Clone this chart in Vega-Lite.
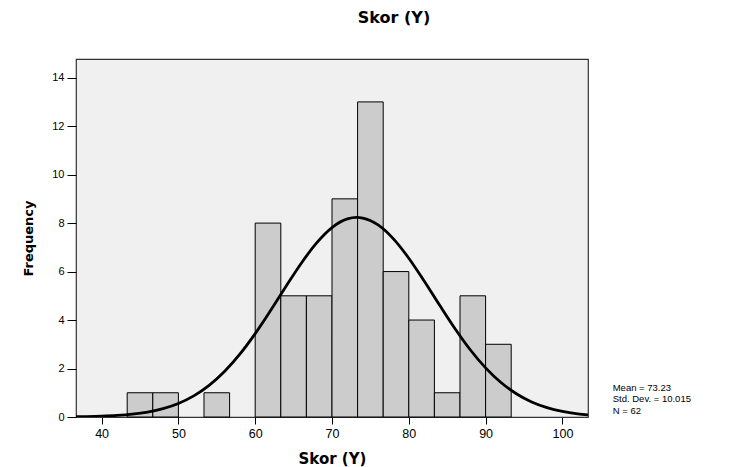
{
  "$schema": "https://vega.github.io/schema/vega-lite/v6.json",
  "width": 512,
  "height": 358,
  "autosize": {"type": "none"},
  "padding": {"left": 76, "top": 59, "right": 147, "bottom": 50},
  "background": "white",
  "config": {
    "font": "Liberation Sans",
    "view": {"fill": "#f0f0f0", "stroke": "#333333", "strokeWidth": 1.2},
    "axis": {"grid": false, "domain": false, "tickColor": "#000000", "labelColor": "#000000", "titleColor": "#000000", "labelFont": "Liberation Sans", "titleFont": "DejaVu Sans"}
  },
  "title": {"text": "Skor (Y)", "fontSize": 16, "fontWeight": "bold", "font": "DejaVu Sans", "anchor": "middle", "frame": "group", "dx": 62, "offset": 33, "color": "#000000"},
  "datasets": {
    "bins": [
      {"bin_start": 43.333, "bin_end": 46.667, "count": 1},
      {"bin_start": 46.667, "bin_end": 50.0, "count": 1},
      {"bin_start": 53.333, "bin_end": 56.667, "count": 1},
      {"bin_start": 60.0, "bin_end": 63.333, "count": 8},
      {"bin_start": 63.333, "bin_end": 66.667, "count": 5},
      {"bin_start": 66.667, "bin_end": 70.0, "count": 5},
      {"bin_start": 70.0, "bin_end": 73.333, "count": 9},
      {"bin_start": 73.333, "bin_end": 76.667, "count": 13},
      {"bin_start": 76.667, "bin_end": 80.0, "count": 6},
      {"bin_start": 80.0, "bin_end": 83.333, "count": 4},
      {"bin_start": 83.333, "bin_end": 86.667, "count": 1},
      {"bin_start": 86.667, "bin_end": 90.0, "count": 5},
      {"bin_start": 90.0, "bin_end": 93.333, "count": 3}
    ],
    "curve": [
      {"x": 36.67, "y": 0.0105}, {"x": 38, "y": 0.0169}, {"x": 40, "y": 0.0335}, {"x": 42, "y": 0.0637},
      {"x": 44, "y": 0.1164}, {"x": 46, "y": 0.2044}, {"x": 48, "y": 0.3448}, {"x": 50, "y": 0.5589},
      {"x": 52, "y": 0.8707}, {"x": 54, "y": 1.3031}, {"x": 56, "y": 1.8742}, {"x": 58, "y": 2.5906},
      {"x": 60, "y": 3.4405}, {"x": 62, "y": 4.3908}, {"x": 64, "y": 5.3844}, {"x": 66, "y": 6.3446},
      {"x": 68, "y": 7.1837}, {"x": 70, "y": 7.8158}, {"x": 72, "y": 8.1712}, {"x": 73.23, "y": 8.233},
      {"x": 74, "y": 8.2087}, {"x": 76, "y": 7.924}, {"x": 78, "y": 7.3501}, {"x": 80, "y": 6.5514},
      {"x": 82, "y": 5.6109}, {"x": 84, "y": 4.6178}, {"x": 86, "y": 3.6519}, {"x": 88, "y": 2.7751},
      {"x": 90, "y": 2.0264}, {"x": 92, "y": 1.4217}, {"x": 94, "y": 0.9585}, {"x": 96, "y": 0.6209},
      {"x": 98, "y": 0.3865}, {"x": 100, "y": 0.2313}, {"x": 102, "y": 0.133}, {"x": 103.33, "y": 0.0899}
    ]
  },
  "layer": [
    {
      "data": {"name": "bins"},
      "mark": {"type": "rect", "fill": "#cccccc", "stroke": "#000000", "strokeWidth": 1},
      "encoding": {
        "x": {"field": "bin_start", "type": "quantitative",
              "scale": {"domain": [36.667, 103.333], "nice": false, "zero": false},
              "axis": {"values": [40, 50, 60, 70, 80, 90, 100], "title": "Skor (Y)", "titleFontSize": 15, "titleFontWeight": "bold", "titlePadding": 12, "labelFontSize": 12.5, "tickSize": 7, "labelPadding": 3}},
        "x2": {"field": "bin_end"},
        "y": {"field": "count", "type": "quantitative",
              "scale": {"domain": [0, 14.77], "nice": false},
              "axis": {"values": [0, 2, 4, 6, 8, 10, 12, 14], "title": "Frequency", "titleFontSize": 13, "titleFontWeight": "bold", "titlePadding": 16, "labelFontSize": 11, "tickSize": 9, "labelPadding": 3}},
        "y2": {"datum": 0}
      }
    },
    {
      "data": {"name": "curve"},
      "mark": {"type": "line", "color": "#000000", "strokeWidth": 2.8, "interpolate": "monotone", "clip": true},
      "encoding": {
        "x": {"field": "x", "type": "quantitative"},
        "y": {"field": "y", "type": "quantitative"}
      }
    },
    {
      "data": {"values": [{}]},
      "mark": {"type": "text", "text": ["Mean = 73.23", "Std. Dev. = 10.015", "N = 62"], "align": "left", "baseline": "top", "fontSize": 9.5, "font": "Liberation Sans", "lineHeight": 11.3, "color": "#000000", "clip": false},
      "encoding": {
        "x": {"datum": 106.55, "type": "quantitative"},
        "y": {"datum": 1.4, "type": "quantitative"}
      }
    }
  ]
}
